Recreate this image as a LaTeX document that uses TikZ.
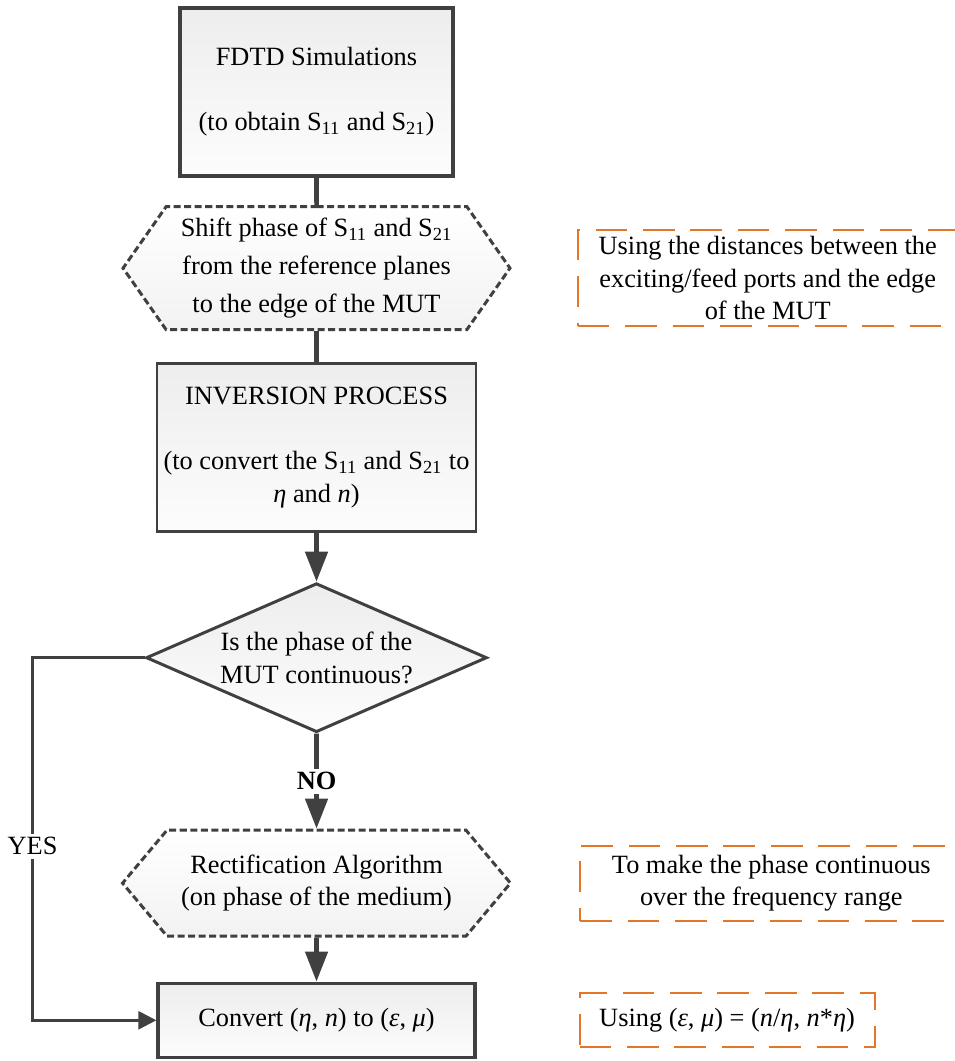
\documentclass[tikz,border=0pt]{standalone}
\usepackage{fontspec}
\setmainfont{Liberation Serif}
\usetikzlibrary{positioning,shapes.geometric,shapes.symbols,arrows.meta}
\definecolor{linegray}{RGB}{64,64,64}
\definecolor{noteorange}{RGB}{228,118,40}
\tikzset{
  >={Triangle[length=0.6cm,width=0.44cm]},
  every node/.style={font=\fontsize{15}{18.5}\selectfont, align=center},
  procbox/.style={draw=linegray, rectangle, top color=gray!14, bottom color=gray!2, inner sep=0pt},
  prepbox/.style={draw=linegray, signal, signal to=east and west, line width=1.7pt,
    dash pattern=on 4pt off 2pt, top color=white, bottom color=gray!10, inner sep=0pt},
  decision/.style={draw=linegray, diamond, aspect=2.29, line width=1.7pt,
    top color=gray!14, bottom color=gray!2, inner sep=0pt},
  note/.style={draw=noteorange, line width=1.1pt, dash pattern=on 18pt off 9pt, inner sep=0pt},
  flow/.style={draw=linegray, line width=2.6pt},
}

\begin{document}
\begin{tikzpicture}[x=0.02cm, y=-0.02cm]
  \useasboundingbox (0,0) rectangle (955,1061);

  % main column
  \node[procbox, line width=2.5pt, minimum width=5.46cm, minimum height=3.36cm] (fdtd) at (316.5,92)
    {FDTD Simulations\\[18.5pt] (to obtain S\textsubscript{11} and S\textsubscript{21})};
  \node[prepbox, minimum width=7.74cm, minimum height=2.46cm, signal pointer angle=110,
    font=\fontsize{15}{21.5}\selectfont, below=0.54cm of fdtd] (shift)
    {Shift phase of S\textsubscript{11} and S\textsubscript{21}\\ from the reference planes\\ to the edge of the MUT};
  \node[procbox, line width=1.5pt, minimum width=6.38cm, minimum height=3.36cm, below=0.62cm of shift] (inv)
    {INVERSION PROCESS\\[18.5pt] (to convert the S\textsubscript{11} and S\textsubscript{21} to\\ \textit{η} and \textit{n})};
  \node[decision, minimum width=6.82cm, minimum height=2.98cm, below=0.98cm of inv] (cont)
    {Is the phase of the\\ MUT continuous?};
  \node[prepbox, minimum width=7.76cm, minimum height=2.12cm, signal pointer angle=100, below=1.9cm of cont] (rect)
    {Rectification Algorithm\\ (on phase of the medium)};
  \node[procbox, line width=1.9pt, minimum width=6.34cm, minimum height=1.48cm, below=0.88cm of rect] (conv)
    {Convert (\textit{η}, \textit{n}) to (\textit{ε}, \textit{μ})};

  % side notes
  \node[note, minimum width=7.6cm, minimum height=1.92cm, right=1.3cm of shift, yshift=-0.2cm] (noteshift)
    {Using the distances between the\\ exciting/feed ports and the edge\\ of the MUT};
  \node[note, minimum width=7.64cm, minimum height=1.5cm, right=1.34cm of rect] (noterect)
    {To make the phase continuous\\ over the frequency range};
  \node[note, minimum width=5.9cm, minimum height=1.08cm, right=2.04cm of conv] (noteconv)
    {Using (\textit{ε}, \textit{μ}) = (\textit{n}/\textit{η}, \textit{n}*\textit{η})};

  % connectors
  \draw[flow] (fdtd) -- (shift);
  \draw[flow] (shift) -- (inv);
  \draw[flow, ->] (inv) -- (cont);
  \draw[flow, ->] (cont) -- node[fill=white, inner sep=2pt, font=\fontsize{15}{18.5}\selectfont\bfseries] {NO} (rect);
  \draw[flow, ->] (rect) -- (conv);
  \draw[draw=linegray, line width=1.5pt, -{Triangle[length=0.36cm,width=0.36cm]}]
    (cont.west) -- ++(-2.24cm,0) |- node[pos=0.26, fill=white, inner sep=2pt] {YES} (conv.west);
\end{tikzpicture}
\end{document}
